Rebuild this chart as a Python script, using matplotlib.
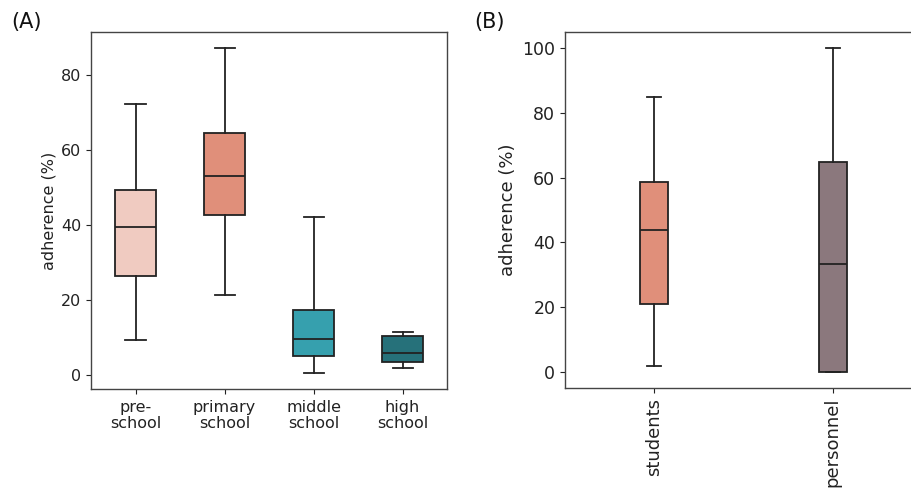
import numpy as np
import matplotlib
matplotlib.use("Agg")
import matplotlib.pyplot as plt

# panel A: adherence by school level
school_labels = ["pre-\nschool", "primary\nschool", "middle\nschool", "high\nschool"]
school_whislo = [9.4, 21.4, 0.6, 1.8]
school_q1 = [26.4, 42.6, 5.0, 3.5]
school_med = [39.4, 53.2, 9.7, 5.9]
school_q3 = [49.4, 64.6, 17.3, 10.3]
school_whishi = [72.4, 87.2, 42.1, 11.5]
school_colors = ["#f0cbc1", "#e08f7a", "#36a0ae", "#26717a"]

# panel B: students vs personnel
group_labels = ["students", "personnel"]
group_whislo = [2.0, 0.0]
group_q1 = [20.9, 0.0]
group_med = [43.7, 33.3]
group_q3 = [58.5, 64.7]
group_whishi = [84.9, 100.0]
group_colors = ["#e08f7a", "#8b787d"]


def make_stats(lo, q1, med, q3, hi):
    stats = []
    for i in range(len(lo)):
        stats.append({"whislo": lo[i], "q1": q1[i], "med": med[i],
                      "q3": q3[i], "whishi": hi[i], "fliers": []})
    return stats


def draw_boxes(ax, stats, colors, width):
    n = len(stats)
    bp = ax.bxp(stats, positions=range(n), widths=width, capwidths=width / 2,
                patch_artist=True, showfliers=False,
                boxprops=dict(edgecolor="#222222", linewidth=1.3),
                medianprops=dict(color="#222222", linewidth=1.3),
                whiskerprops=dict(color="#222222", linewidth=1.3),
                capprops=dict(color="#222222", linewidth=1.3))
    for patch, c in zip(bp["boxes"], colors):
        patch.set_facecolor(c)
    ax.set_xlim(-0.5, n - 0.5)
    for s in ax.spines.values():
        s.set_color("#444444")
        s.set_linewidth(1.0)
    ax.tick_params(colors="#222222", labelcolor="#222222")


fig = plt.figure(figsize=(9.11, 4.9), dpi=100)

axA = fig.add_axes([0.0999, 0.2061, 0.3908, 0.7286])
draw_boxes(axA, make_stats(school_whislo, school_q1, school_med, school_q3, school_whishi),
           school_colors, 0.45)
axA.set_xticks(range(len(school_labels)))
axA.set_xticklabels(school_labels, fontsize=11.5, linespacing=1.1)
axA.tick_params(axis="x", pad=4.5)
axA.tick_params(axis="y", labelsize=11.5)
axA.set_yticks([0, 20, 40, 60, 80])
axA.set_ylabel("adherence (%)", fontsize=11.5, color="#222222", labelpad=3)

axB = fig.add_axes([0.6202, 0.2076, 0.392, 0.7277])
draw_boxes(axB, make_stats(group_whislo, group_q1, group_med, group_q3, group_whishi),
           group_colors, 0.155)
axB.set_xticks(range(len(group_labels)))
axB.set_xticklabels(group_labels, fontsize=13, rotation=90)
axB.tick_params(axis="x", pad=3.5)
axB.tick_params(axis="y", labelsize=12.5)
axB.set_yticks([0, 20, 40, 60, 80, 100])
axB.set_ylabel("adherence (%)", fontsize=13, color="#222222")

fig.text(0.012, 0.955, "(A)", fontsize=15, va="center", ha="left", color="#111111")
fig.text(0.521, 0.955, "(B)", fontsize=15, va="center", ha="left", color="#111111")

fig.savefig("out.png", dpi=100)
